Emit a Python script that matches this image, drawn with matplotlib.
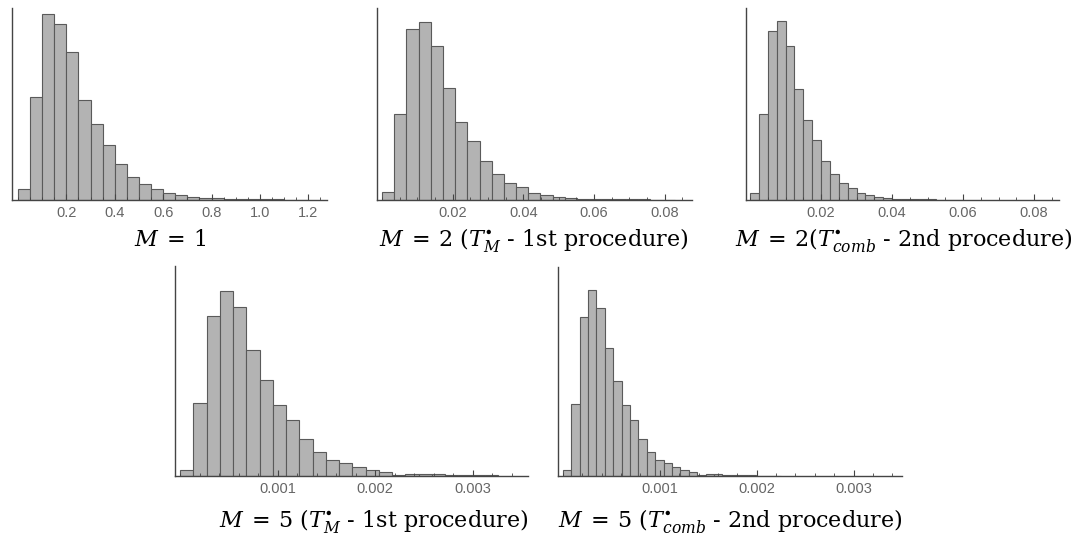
import numpy as np
import matplotlib.pyplot as plt
from matplotlib.ticker import MultipleLocator

plt.rcParams['mathtext.fontset'] = 'dejavuserif'

# --- datos (alturas relativas, eje Y sin escala) ---
# M = 1
bw_1 = 0.05
h_1 = [34, 310, 557, 527, 443, 300, 227, 164, 109, 68, 47, 33, 20, 14, 9, 6,
       5, 4, 3, 3, 2, 2, 1, 1]
ticks_1 = [0.2, 0.4, 0.6, 0.8, 1.0, 1.2]
labels_1 = ["0.2", "0.4", "0.6", "0.8", "1.0", "1.2"]

# M = 2, 1st procedure
bw_2 = 0.00345
h_2 = [23, 257, 512, 532, 461, 335, 235, 178, 117, 78, 51, 38, 20, 14, 9, 5,
       4, 3, 3, 2, 2, 2, 1, 1]
# M = 2, 2nd procedure
bw_3 = 0.0025
h_3 = [21, 257, 506, 537, 461, 333, 239, 181, 117, 78, 52, 37, 20, 15, 10, 6,
       4, 3, 2, 2, 2, 1, 1, 1]
ticks_23 = [0.02, 0.04, 0.06, 0.08]
labels_23 = ["0.02", "0.04", "0.06", "0.08"]

# M = 5, 1st procedure
bw_4 = 0.000136
h_4 = [6, 72.7, 160.3, 185.3, 168.7, 125.7, 95.7, 71.3, 56, 36.7, 23.7, 16,
       12.7, 8.7, 5.7, 3.7, 1, 2, 2.3, 2, 1, 1, 1, 0.7]
# M = 5, 2nd procedure
bw_5 = 0.0000866
h_5 = [5.7, 72, 159.3, 186.3, 168.3, 128.3, 95, 71, 56, 36.7, 23.7, 16, 12.7,
       8.7, 5.7, 4, 1.5, 2, 2, 1.5, 1, 1, 0.7, 0.5, 0.5, 0.5]
ticks_45 = [0.001, 0.002, 0.003]
labels_45 = ["0.001", "0.002", "0.003"]

captions = [
    r"$M\:=\:1$",
    r"$M\:=\:2$ ($T^{\bullet}_{M}$ - 1st procedure)",
    r"$M\:=\:2$($T^{\bullet}_{comb}$ - 2nd procedure)",
    r"$M\:=\:5$ ($T^{\bullet}_{M}$ - 1st procedure)",
    r"$M\:=\:5$ ($T^{\bullet}_{comb}$ - 2nd procedure)",
]

W, H = 1076, 541
fig = plt.figure(figsize=(W / 100, H / 100), dpi=100)

# (izq, der, arriba, abajo) en pixeles, xlim, ylim top, minor step, caption x, caption y
paneles = [
    (h_1, bw_1, ticks_1, labels_1, (12, 327, 8, 200), (-0.0248, 1.277), 576, 0.05, 170, 246),
    (h_2, bw_2, ticks_23, labels_23, (377, 692, 8, 200), (-0.00142, 0.08774), 575, 0.005, 534, 246),
    (h_3, bw_3, ticks_23, labels_23, (746, 1059, 8, 200), (-0.00113, 0.08704), 575, 0.005, 904, 246),
    (h_4, bw_4, ticks_45, labels_45, (175, 528, 266, 476), (-0.0000513, 0.003569), 210, 0.0002, 374, 527),
    (h_5, bw_5, ticks_45, labels_45, (558, 902, 267, 476), (-0.0000485, 0.003498), 209.3, 0.0002, 730, 527),
]

for i, (h, bw, tk, lb, box, xl, ytop, mstep, cx, cy) in enumerate(paneles):
    l, r, t, b = box
    ax = fig.add_axes([l / W, 1 - b / H, (r - l) / W, (b - t) / H])
    bordes = np.arange(len(h)) * bw
    ax.bar(bordes, h, width=bw, align='edge', color='#b3b3b3',
           edgecolor='#5a5a5a', linewidth=0.8)
    ax.set_xlim(*xl)
    ax.set_ylim(0, ytop)
    ax.spines['top'].set_visible(False)
    ax.spines['right'].set_visible(False)
    for s in ['left', 'bottom']:
        ax.spines[s].set_color('#444444')
        ax.spines[s].set_linewidth(1.0)
    ax.set_yticks([])
    ax.set_xticks(tk)
    ax.set_xticklabels(lb, fontfamily='Liberation Sans', fontsize=10.5, color='#666666')
    ax.xaxis.set_minor_locator(MultipleLocator(mstep))
    ax.tick_params(axis='x', which='major', direction='in', length=4, width=0.8,
                   color='#444444', pad=4)
    ax.tick_params(axis='x', which='minor', direction='in', length=2, width=0.6,
                   color='#444444')
    ax.set_facecolor('none')
    fig.text(cx / W, 1 - cy / H, captions[i], ha='center', va='baseline',
             fontsize=16, fontfamily='DejaVu Serif')

fig.savefig('out.png', dpi=100)
